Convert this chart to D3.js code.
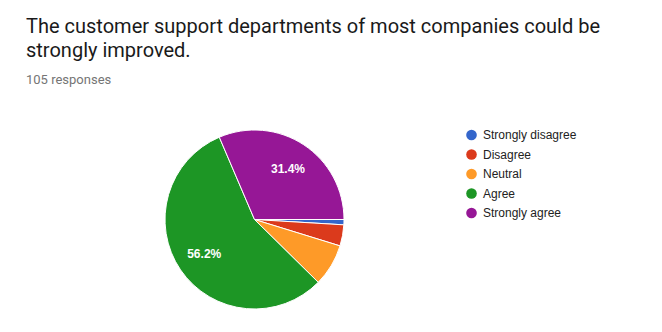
<!DOCTYPE html>
<html>
<head>
<meta charset="utf-8">
<script src="https://cdn.jsdelivr.net/npm/d3@7"></script>
<style>
  html, body { margin: 0; padding: 0; background: #fff; }
  svg { display: block; }
</style>
</head>
<body>
<svg id="chart" width="662" height="332"></svg>
<script>
// Survey answers (105 responses)
const categories = ["Strongly disagree", "Disagree", "Neutral", "Agree", "Strongly agree"];
const counts = [1, 4, 8, 59, 33];
const colors = ["#3466cb", "#db3a1c", "#fe9a28", "#1d9625", "#961796"];
const titleLines = ["The customer support departments of most companies could be", "strongly improved."];
const subtitle = "105 responses";

const svg = d3.select("#chart");
const total = d3.sum(counts);

// Title and response count
svg.append("text")
  .attr("x", 26).attr("y", 33)
  .attr("font-family", "Roboto, sans-serif")
  .attr("font-size", 20)
  .attr("fill", "#1a1a1a")
  .selectAll("tspan")
  .data(titleLines)
  .join("tspan")
  .attr("x", 26)
  .attr("dy", (d, i) => i === 0 ? 0 : 24)
  .text(d => d);

svg.append("text")
  .attr("x", 26).attr("y", 84)
  .attr("font-family", "Roboto, sans-serif")
  .attr("font-size", 13)
  .attr("fill", "#757575")
  .text(subtitle);

// Pie, starting at 3 o'clock and running clockwise
const cx = 254.5, cy = 219.5, radius = 89.5;
const color = d3.scaleOrdinal().domain(categories).range(colors);

const pie = d3.pie()
  .value((d, i) => counts[i])
  .sort(null)
  .startAngle(Math.PI / 2)
  .endAngle(Math.PI / 2 + 2 * Math.PI);

const arcs = pie(categories);
const arc = d3.arc().innerRadius(0).outerRadius(radius);
const labelArc = d3.arc().innerRadius(radius * 0.68).outerRadius(radius * 0.68);

const g = svg.append("g").attr("transform", `translate(${cx},${cy})`);

g.selectAll("path")
  .data(arcs)
  .join("path")
  .attr("d", arc)
  .attr("fill", d => color(d.data))
  .attr("stroke", "#fff")
  .attr("stroke-width", 1);

// Percentage labels on the larger slices
g.selectAll("text.pct")
  .data(arcs.filter(d => d.value / total > 0.1))
  .join("text")
  .attr("class", "pct")
  .attr("transform", d => `translate(${labelArc.centroid(d)})`)
  .attr("text-anchor", "middle")
  .attr("dy", "0.36em")
  .attr("font-family", "Arial, 'Liberation Sans', sans-serif")
  .attr("font-size", 12)
  .attr("font-weight", "bold")
  .attr("fill", "#fff")
  .text(d => (d.value / total * 100).toFixed(1) + "%");

// Legend
const legend = svg.append("g").attr("transform", "translate(471.5,135)");
const rows = legend.selectAll("g")
  .data(categories)
  .join("g")
  .attr("transform", (d, i) => `translate(0,${i * 19.5})`);

rows.append("circle")
  .attr("r", 5.3)
  .attr("fill", d => color(d));

rows.append("text")
  .attr("x", 11.5)
  .attr("dy", "0.36em")
  .attr("font-family", "Arial, 'Liberation Sans', sans-serif")
  .attr("font-size", 12)
  .attr("fill", "#222")
  .text(d => d);
</script>
</body>
</html>
